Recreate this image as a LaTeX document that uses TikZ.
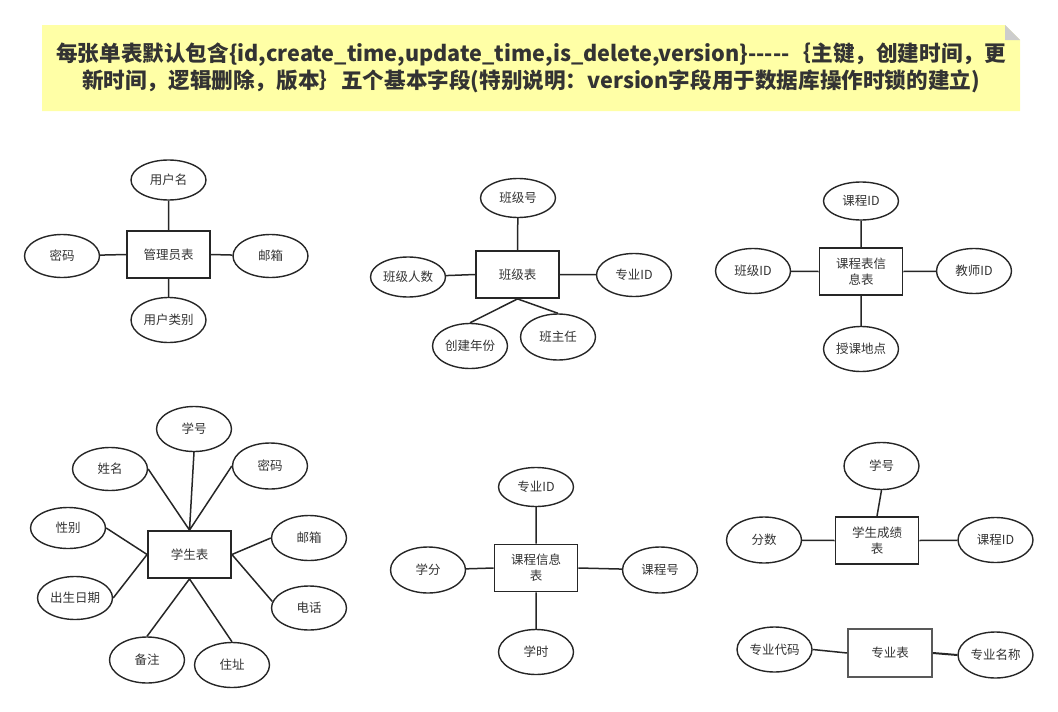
\documentclass[tikz,border=0pt]{standalone}
\usepackage{fontspec}
\setmainfont{Noto Sans CJK SC}
\usepackage{xcolor}
\usetikzlibrary{shapes.geometric}

\definecolor{notefill}{HTML}{FFFFA6}
\definecolor{foldgray}{HTML}{CCCCCC}
\definecolor{txt}{HTML}{333333}

\newcommand{\hy}{-\kern0pt}

\tikzset{
  ent/.style={draw=black!85,line width=1.8pt,rectangle,minimum width=83pt,minimum height=47pt,
    inner sep=1pt,align=center,text=txt,font=\fontsize{12.5}{16}\selectfont},
  attr/.style={draw=black!85,line width=1.4pt,ellipse,minimum width=75pt,minimum height=43pt,
    inner sep=0pt,text=txt,font=\fontsize{12.5}{16}\selectfont},
  link/.style={draw=black!85,line width=1.5pt}
}

\begin{document}
\begin{tikzpicture}[x=1pt,y=-1pt]
            \useasboundingbox (0,0) rectangle (1058,712);

            % note
            \fill[notefill] (42,25) -- (1005,25) -- (1020,40) -- (1020,111) -- (42,111) -- cycle;
            \fill[foldgray] (1005,25) -- (1020,40) -- (1005,40) -- cycle;
            \node (note) at (531,68) [align=center,text=txt,font=\fontsize{21.6}{27}\selectfont\bfseries]
              {每张单表默认包含{\{}id,create\_time,update\_time,is\_delete,version{\}}\hy\hy\hy\hy\hy ｛主键，创建时间，更\\
               新时间，逻辑删除，版本｝五个基本字段(特别说明：version字段用于数据库操作时锁的建立)};

            % 管理员表
            \node (glyb) at (168.5,254.5) [ent] {管理员表};
            \node (yhm) at (168.5,180) [attr,minimum height=40pt] {用户名};
            \node (mm) at (62,256) [attr] {密码};
            \node (yx) at (270.5,256) [attr] {邮箱};
            \node (yhlb) at (168.5,320) [attr,minimum height=45pt] {用户类别};

            \draw[link] (glyb.north) -- (yhm) (glyb.west) -- (mm) (glyb.east) -- (yx) (glyb.south) -- (yhlb);

            % 班级表
            \node (bjb) at (517.5,274.5) [ent] {班级表};
            \node (bjh) at (518,198) [attr,minimum height=39pt] {班级号};
            \node (bjrs) at (408,277) [attr,minimum height=40pt] {班级人数};
            \node (zyid) at (634,275) [attr] {专业ID};
            \node (cjnf) at (470,346) [attr,minimum height=45pt] {创建年份};
            \node (bzr) at (558,337) [attr,minimum height=46pt] {班主任};

            \draw[link] (bjb.north) -- (bjh) (bjb.west) -- (bjrs) (bjb.east) -- (zyid)
              (bjb.south) -- (cjnf.north) (bjb.south) -- (bzr.north);

            % 课程表信息表
            \node (kcbxx) at (861,271.5) [ent] {课程表信\\息表};
            \node (kcid) at (861,201) [attr,minimum height=38pt] {课程ID};
            \node (bjid) at (753,271) [attr,minimum height=45pt] {班级ID};
            \node (jsid) at (974,271) [attr,minimum height=45pt] {教师ID};
            \node (skdd) at (861,349) [attr,minimum height=45pt] {授课地点};

            \draw[link] (kcbxx.north) -- (kcid) (kcbxx.west) -- (bjid) (kcbxx.east) -- (jsid) (kcbxx.south) -- (skdd);

            % 学生表
            \node (xsb) at (189.5,554.5) [ent] {学生表};
            \node (xh) at (194,429) [attr,minimum height=45pt] {学号};
            \node (xm) at (110,469) [attr] {姓名};
            \node (xsmm) at (270,466) [attr,minimum height=46pt] {密码};
            \node (xb) at (68,528) [attr,minimum height=41pt] {性别};
            \node (xsyx) at (309,538) [attr,minimum height=45pt] {邮箱};
            \node (csrq) at (75,598) [attr] {出生日期};
            \node (dh) at (309,608) [attr,minimum height=44pt] {电话};
            \node (bz) at (147,660) [attr,minimum height=46pt] {备注};
            \node (zz) at (232,665) [attr,minimum height=45pt] {住址};

            \draw[link] (xsb.north) -- (xm.east) (xsb.north) -- (xh.south) (xsb.north) -- (xsmm.west);
            \draw[link] (xsb.west) -- (xb.east) (xsb.west) -- (csrq.east);
            \draw[link] (xsb.east) -- (xsyx.west) (xsb.east) -- (dh.170);
            \draw[link] (xsb.south) -- (bz.north) (xsb.south) -- (zz.north);

            % 课程信息表
            \node (kcxxb) at (536,568) [ent] {课程信息\\表};
            \node (kczyid) at (536,487) [attr,minimum height=39pt] {专业ID};
            \node (xf) at (428,570) [attr,minimum height=46pt] {学分};
            \node (kch) at (660,570) [attr,minimum height=46pt] {课程号};
            \node (xs) at (536,652) [attr,minimum height=45pt] {学时};

            \draw[link] (kcxxb.north) -- (kczyid) (kcxxb.west) -- (xf) (kcxxb.east) -- (kch) (kcxxb.south) -- (xs);

            % 学生成绩表
            \node (xscjb) at (877,540.5) [ent] {学生成绩\\表};
            \node (cjxh) at (881.5,466) [attr,minimum height=47pt] {学号};
            \node (fs) at (764,540) [attr,minimum height=46pt] {分数};
            \node (cjkcid) at (995.5,540) [attr,minimum height=45pt] {课程ID};

            \draw[link] (xscjb.north) -- (cjxh.south) (xscjb.west) -- (fs) (xscjb.east) -- (cjkcid);

            % 专业表
            \node (zyb) at (890,653) [ent,draw=black!65,minimum width=84pt,minimum height=48pt] {专业表};
            \node (zydm) at (774.5,649.5) [attr,minimum height=45pt] {专业代码};
            \node (zymc) at (995.5,655) [attr,minimum height=46pt] {专业名称};

            \draw[link] (zydm.east) -- (zyb.west);
            \draw[link,line width=2pt] (zyb.east) -- (zymc.west);

        \end{tikzpicture}
\end{document}
